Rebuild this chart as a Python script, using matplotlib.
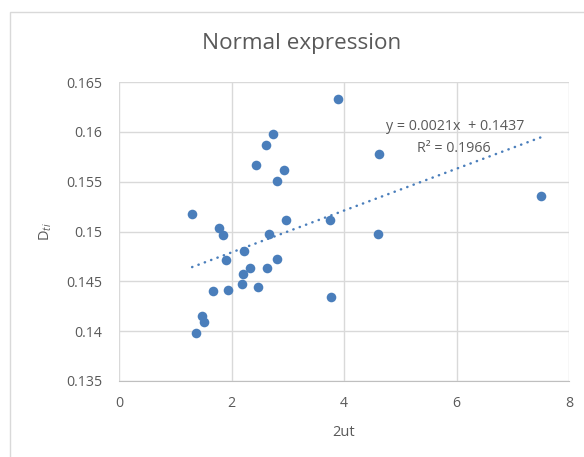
import matplotlib
matplotlib.use("Agg")
import matplotlib.pyplot as plt
from matplotlib.patches import Rectangle

# values
x_2ut = [1.30, 1.78, 1.84, 1.91, 1.67, 1.94, 1.48, 1.51, 1.37, 2.23,
         2.20, 2.33, 2.19, 2.47, 2.63, 2.81, 2.66, 2.96, 2.43, 2.61,
         2.73, 2.93, 2.80, 3.89, 3.75, 3.77, 4.62, 4.60, 7.50]
y_dti = [0.1518, 0.1504, 0.1496, 0.1471, 0.1440, 0.1441, 0.1415, 0.1409, 0.1398, 0.1480,
         0.1457, 0.1463, 0.1447, 0.1444, 0.1463, 0.1472, 0.1497, 0.1512, 0.1567, 0.1587,
         0.1598, 0.1562, 0.1551, 0.1633, 0.1512, 0.1434, 0.1578, 0.1497, 0.1536]
slope, intercept, r2 = 0.0021, 0.1437, 0.1966
x_ticks = [0, 2, 4, 6, 8]
y_ticks = [0.135, 0.14, 0.145, 0.15, 0.155, 0.16, 0.165]

BLUE = "#4a7ebb"
GREY = "#595959"
W, H = 584, 457
plt.rcParams["font.family"] = ["Open Sans", "DejaVu Sans"]
plt.rcParams["mathtext.fontset"] = "custom"
plt.rcParams["mathtext.rm"] = "Open Sans"
plt.rcParams["mathtext.it"] = "Open Sans:italic"

fig = plt.figure(figsize=(W / 100, H / 100), dpi=100)
fig.patches.append(Rectangle((10 / W, -0.05), 1.1, 1 - 12 / H + 0.05,
                             transform=fig.transFigure, fill=False,
                             edgecolor="#d9d9d9", linewidth=1))
ax = fig.add_axes([119 / W, 1 - 381 / H, 450 / W, 299 / H])

ax.scatter(x_2ut, y_dti, s=48, color=BLUE, zorder=3, linewidths=0)
xs = [min(x_2ut), max(x_2ut)]
ax.plot(xs, [slope * v + intercept for v in xs], color=BLUE, linewidth=1.8,
        dashes=(0.1, 2.6), dash_capstyle="round", zorder=2)

ax.set_xlim(0, 8)
ax.set_ylim(0.135, 0.165)
ax.set_xticks(x_ticks)
ax.set_yticks(y_ticks)
ax.set_yticklabels([f"{v:g}" for v in y_ticks])
ax.grid(True, color="#d9d9d9", linewidth=1)
ax.set_axisbelow(True)
for side in ["top", "right", "left"]:
    ax.spines[side].set_visible(False)
ax.spines["bottom"].set_color("#bfbfbf")
ax.tick_params(length=0, labelsize=10.2, labelcolor=GREY)
ax.tick_params(axis="y", pad=12)
ax.tick_params(axis="x", pad=11)

ax.set_xlabel("2ut", fontsize=10.5, color=GREY, labelpad=10)
ax.set_ylabel(r"D$_{\mathit{ti}}$", fontsize=10.5, color=GREY, labelpad=9)
fig.text(302 / W, 1 - 44 / H, "Normal expression", fontsize=16.2,
         color=GREY, ha="center", va="center")

fig.text(455 / W, 1 - 127 / H, f"y = {slope}x  + {intercept}", fontsize=10.3,
         color=GREY, ha="center", va="center")
fig.text(454 / W, 1 - 149 / H, f"R² = {r2}", fontsize=10.3,
         color=GREY, ha="center", va="center")

fig.savefig("out.png", dpi=100)
